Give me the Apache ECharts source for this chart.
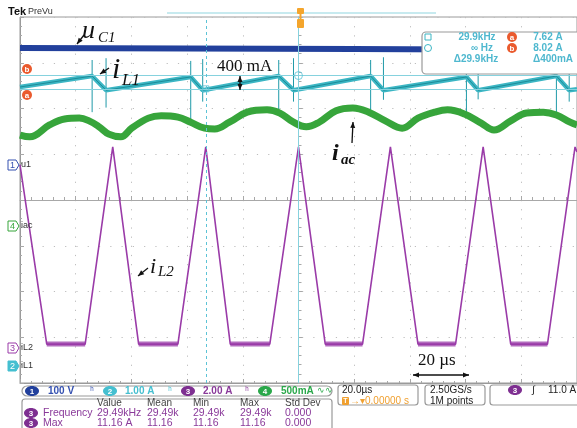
<!DOCTYPE html>
<html>
<head>
<meta charset="utf-8">
<script src="https://cdn.jsdelivr.net/npm/echarts@6/dist/echarts.min.js"></script>
<style>
  html, body { margin: 0; padding: 0; background: #fff; }
  #main { width: 577px; height: 428px; }
</style>
</head>
<body>
<div id="main"></div>
<script>
// x = time in µs (20 µs/div, trigger at centre), y = screen divisions (8 div high)
const timeRange = [-100, 100];
const timeStep = 20;
const divRange = [-4, 4];

// traces
const uC1 = [[-100, 3.32], [-40, 3.31], [20, 3.30], [100, 3.28]];

const iL1 = [[-100, 2.47], [-74.1, 2.71], [-69.1, 2.40], [-38.7, 2.69], [-34.4, 2.40],
  [-7.1, 2.71], [-1.8, 2.40], [25.9, 2.71], [30.5, 2.40], [60.3, 2.69], [64.5, 2.40],
  [92.6, 2.71], [97.2, 2.40], [100, 2.42]];
// switching spikes on iL1: [time, top, bottom]
const iL1Spikes = [[-74.1, 3.06, 1.92], [-69.1, 3.10, 2.02], [-38.7, 3.04, 1.70], [-34.4, 3.08, 2.15],
  [-7.1, 3.06, 1.90], [-1.8, 3.10, 2.15], [25.9, 3.06, 1.96], [30.5, 3.12, 2.19],
  [60.3, 3.04, 1.92], [64.5, 3.08, 2.20], [92.6, 3.06, 1.90], [97.2, 3.10, 2.15]];

const iac = [[-100, 1.42], [-96.5, 1.38], [-89.4, 1.64], [-84.0, 1.77], [-78.7, 1.79], [-75.2, 1.73],
  [-71.6, 1.60], [-68.1, 1.44], [-63.8, 1.38], [-59.9, 1.57], [-53.9, 1.79], [-49.3, 1.84],
  [-43.3, 1.81], [-38.7, 1.70], [-33.7, 1.57], [-30.1, 1.55], [-24.8, 1.70], [-18.4, 1.92],
  [-11.3, 1.97], [-6.7, 1.90], [-1.8, 1.70], [2.8, 1.60], [7.4, 1.70], [13.5, 1.95],
  [19.5, 2.01], [25.2, 1.92], [31.2, 1.73], [37.2, 1.57], [42.9, 1.79], [48.9, 1.92],
  [53.5, 1.97], [59.6, 1.88], [65.6, 1.68], [70.2, 1.53], [76.2, 1.73], [81.9, 1.90],
  [87.9, 1.92], [92.6, 1.86], [97.5, 1.70], [100, 1.64]];

const iL2Floor = -3.15;
const iL2 = [[-100, 0.77], [-90.4, iL2Floor], [-76.6, iL2Floor], [-66.7, 1.16], [-57.4, iL2Floor],
  [-43.3, iL2Floor], [-33.3, 1.16], [-24.5, iL2Floor], [-10.3, iL2Floor], [0, 1.16],
  [9.6, iL2Floor], [23.0, iL2Floor], [33.0, 1.16], [42.9, iL2Floor], [56.4, iL2Floor],
  [66.3, 1.16], [76.2, iL2Floor], [89.4, iL2Floor], [99.3, 1.16], [100, 1.05]];

// cursors
const cursorA = 2.43, cursorB = 2.72;
const cursorT1 = -33.3, cursorT2 = 0;

// flat parts of iL2 carry the switching noise band
const floorSegs = [];
for (let i = 0; i < iL2.length - 1; i++) {
  if (iL2[i][1] === iL2Floor && iL2[i + 1][1] === iL2Floor) floorSegs.push([iL2[i][0], iL2[i + 1][0], iL2Floor]);
}

const C1 = '#22409c', C2 = '#3cb6c4', C3 = '#9a3ba8', C4 = '#37a53b';
const UI = '"Liberation Sans", Arial, sans-serif';
const SERIF = '"Liberation Serif", "Times New Roman", serif';

function txt(x, y, text, font, fill, align, valign) {
  return { type: 'text', x: x, y: y, z: 60, silent: true,
    style: { text: text, font: font, fill: fill,
      textAlign: align || 'left', align: align || 'left',
      textVerticalAlign: valign || 'middle', verticalAlign: valign || 'middle' } };
}
function arrow(x1, y1, x2, y2, both) {
  const a = Math.atan2(y2 - y1, x2 - x1);
  const head = (x, y, g) => ({ type: 'polygon', z: 60, silent: true, shape: { points: [[x, y],
    [x - 6 * Math.cos(g) + 2.5 * Math.sin(g), y - 6 * Math.sin(g) - 2.5 * Math.cos(g)],
    [x - 6 * Math.cos(g) - 2.5 * Math.sin(g), y - 6 * Math.sin(g) + 2.5 * Math.cos(g)]] },
    style: { fill: '#111' } });
  const els = [{ type: 'line', z: 60, silent: true, shape: { x1: x1, y1: y1, x2: x2, y2: y2 }, style: { stroke: '#111', lineWidth: 1.3 } }, head(x2, y2, a)];
  if (both) els.push(head(x1, y1, a + Math.PI));
  return els;
}
function badge(cx, cy, label, color) {
  return [{ type: 'ellipse', z: 60, silent: true, shape: { cx: cx, cy: cy, rx: 7, ry: 5 }, style: { fill: color } },
    txt(cx, cy + 0.5, label, 'bold 8px ' + UI, '#fff', 'center')];
}
function cursorBadge(cx, cy, label) {
  return [{ type: 'circle', z: 60, silent: true, shape: { cx: cx, cy: cy, r: 5 }, style: { fill: '#ea5a2e' } },
    txt(cx, cy + 0.5, label, 'bold 8px ' + UI, '#fff', 'center')];
}
function chMark(y, num, label, color, filled) {
  return [{ type: 'polygon', z: 60, silent: true, shape: { points: [[8, y - 5], [16, y - 5], [19, y], [16, y + 5], [8, y + 5]] },
    style: { fill: filled ? color : '#fff', stroke: color, lineWidth: 1 } },
    txt(12.5, y + 0.5, num, '9px ' + UI, filled ? '#fff' : color, 'center'),
    txt(21, y, label, '9px ' + UI, '#333')];
}
function box(x, y, w, h) {
  return { type: 'rect', z: 55, silent: true, shape: { x: x, y: y, width: w, height: h, r: 3 },
    style: { fill: '#fff', stroke: '#9a9a9a', lineWidth: 1.2 } };
}

const g = [];
// header
g.push(txt(8, 12, 'Tek', 'bold 11px ' + UI, '#111'));
g.push(txt(28, 12, 'PreVu', '9px ' + UI, '#333'));
g.push({ type: 'line', z: 50, silent: true, shape: { x1: 167, y1: 13, x2: 436, y2: 13 }, style: { stroke: '#8fd5df', lineWidth: 1 } });
g.push({ type: 'rect', z: 61, silent: true, shape: { x: 297, y: 8, width: 7, height: 6, r: 1 }, style: { fill: '#f4a52c' } });
g.push({ type: 'rect', z: 61, silent: true, shape: { x: 299.5, y: 14, width: 2, height: 5 }, style: { fill: '#f4a52c' } });
g.push({ type: 'rect', z: 61, silent: true, shape: { x: 297, y: 19, width: 7, height: 9, r: 1 }, style: { fill: '#f4a52c' } });
// cursor readout box
g.push({ type: 'rect', z: 55, silent: true, shape: { x: 422, y: 32, width: 170, height: 42, r: 4 }, style: { fill: '#fff', stroke: '#9a9a9a', lineWidth: 1.2 } });
g.push({ type: 'rect', z: 60, silent: true, shape: { x: 425, y: 34, width: 6, height: 6 }, style: { fill: 'none', stroke: C2, lineWidth: 1 } });
g.push({ type: 'circle', z: 60, silent: true, shape: { cx: 428, cy: 48, r: 3.5 }, style: { fill: 'none', stroke: C2, lineWidth: 1 } });
g.push(txt(477, 37, '29.9kHz', 'bold 10px ' + UI, '#4fb8cf', 'center'));
g.push(txt(482, 48, '∞ Hz', 'bold 10px ' + UI, '#4fb8cf', 'center'));
g.push(txt(476, 59, 'Δ29.9kHz', 'bold 10px ' + UI, '#4fb8cf', 'center'));
g.push(...cursorBadge(512, 37, 'a'), ...cursorBadge(512, 48, 'b'));
g.push(txt(548, 37, '7.62 A', 'bold 10px ' + UI, '#4fb8cf', 'center'));
g.push(txt(548, 48, '8.02 A', 'bold 10px ' + UI, '#4fb8cf', 'center'));
g.push(txt(553, 59, 'Δ400mA', 'bold 10px ' + UI, '#4fb8cf', 'center'));
// left-side markers
g.push(...cursorBadge(27, 69, 'b'), ...cursorBadge(27, 95, 'a'));
g.push(...chMark(165, '1', 'u1', '#3450b0', false));
g.push(...chMark(226, '4', 'iac', C4, false));
g.push(...chMark(348, '3', 'iL2', C3, false));
g.push(...chMark(366, '2', 'iL1', '#45bfd0', true));
// annotations
g.push(txt(82, 18, 'u', 'italic 26px ' + SERIF, '#111', 'left', 'top'));
g.push(txt(98, 31, 'C1', 'italic 15px ' + SERIF, '#111', 'left', 'top'));
g.push(...arrow(84, 35, 77, 44));
g.push(txt(112, 55, 'i', 'italic 30px ' + SERIF, '#111', 'left', 'top'));
g.push(txt(122, 72, 'L1', 'italic 17px ' + SERIF, '#111', 'left', 'top'));
g.push(...arrow(109, 68, 100, 74));
g.push(txt(217, 58, '400 mA', '17px ' + SERIF, '#111', 'left', 'top'));
g.push(...arrow(240, 76, 240, 90, true));
g.push(txt(332, 142, 'i', 'bold italic 24px ' + SERIF, '#111', 'left', 'top'));
g.push(txt(341, 153, 'ac', 'bold italic 15px ' + SERIF, '#111', 'left', 'top'));
g.push(...arrow(352, 143, 353, 122));
g.push(txt(150, 256, 'i', 'italic 22px ' + SERIF, '#111', 'left', 'top'));
g.push(txt(158, 265, 'L2', 'italic 15px ' + SERIF, '#111', 'left', 'top'));
g.push(...arrow(148, 268, 138, 276));
g.push(txt(418, 352, '20 µs', '17px ' + SERIF, '#111', 'left', 'top'));
g.push(...arrow(413, 375, 469, 375, true));
// status bar
g.push({ type: 'rect', z: 55, silent: true, shape: { x: 22, y: 386, width: 310, height: 10, r: 5 }, style: { fill: '#fff', stroke: '#9a9a9a', lineWidth: 1.2 } });
g.push(...badge(32, 391, '1', C1), txt(48, 391, '100 V', 'bold 10px ' + UI, '#3450b0'));
g.push(txt(92, 391, 'ʰ', '9px ' + UI, '#3450b0', 'center'));
g.push(...badge(110, 391, '2', '#45bfd0'), txt(125, 391, '1.00 A', 'bold 10px ' + UI, '#45bfd0'));
g.push(txt(170, 391, 'ʰ', '9px ' + UI, '#45bfd0', 'center'));
g.push(...badge(188, 391, '3', '#7e2f91'), txt(203, 391, '2.00 A', 'bold 10px ' + UI, '#8a3a9a'));
g.push(txt(247, 391, 'ʰ', '9px ' + UI, '#8a3a9a', 'center'));
g.push(...badge(265, 391, '4', '#2aa84a'), txt(281, 391, '500mA', 'bold 10px ' + UI, '#2aa84a'));
g.push(txt(317, 391, '∿∿', '9px ' + UI, '#2aa84a'));
g.push(box(338, 385, 80, 20), txt(342, 390, '20.0µs', '10px ' + UI, '#222'));
g.push({ type: 'rect', z: 60, silent: true, shape: { x: 342, y: 397, width: 7, height: 8, r: 1 }, style: { fill: '#f0a030' } });
g.push(txt(345.5, 401.5, 'T', 'bold 7px ' + UI, '#fff', 'center'));
g.push(txt(350, 401, '→▾0.00000 s', '10px ' + UI, '#f0a030'));
g.push(box(425, 385, 60, 20), txt(430, 390, '2.50GS/s', '10px ' + UI, '#222'), txt(430, 401, '1M points', '10px ' + UI, '#222'));
g.push(box(490, 385, 100, 20), ...badge(515, 390, '3', '#7e2f91'));
g.push(txt(532, 390, '∫', '10px ' + UI, '#222'), txt(548, 390, '11.0 A', '10px ' + UI, '#222'));
g.push(box(22, 399, 310, 40));
const cols = [97, 147, 193, 240, 285];
['Value', 'Mean', 'Min', 'Max', 'Std Dev'].forEach((h, i) => g.push(txt(cols[i], 403, h, '10px ' + UI, '#444')));
const rowFreq = ['29.49kHz', '29.49k', '29.49k', '29.49k', '0.000'];
const rowMax = ['11.16 A', '11.16', '11.16', '11.16', '0.000'];
g.push(...badge(31, 413, '3', '#7e2f91'), txt(43, 413, 'Frequency', '10.5px ' + UI, '#8a3a9a'));
g.push(...badge(31, 423, '3', '#7e2f91'), txt(43, 423, 'Max', '10.5px ' + UI, '#8a3a9a'));
rowFreq.forEach((v, i) => g.push(txt(cols[i], 413, v, '10.5px ' + UI, '#8a3a9a')));
rowMax.forEach((v, i) => g.push(txt(cols[i], 423, v, '10.5px ' + UI, '#8a3a9a')));

function vSeg(params, api) {
  const p1 = api.coord([api.value(0), api.value(1)]);
  const p2 = api.coord([api.value(0), api.value(2)]);
  return { type: 'line', shape: { x1: p1[0], y1: p1[1], x2: p2[0], y2: p2[1] }, style: { stroke: '#1f9aa8', lineWidth: 1 } };
}
function hSeg(params, api) {
  const p1 = api.coord([api.value(0), api.value(2)]);
  const p2 = api.coord([api.value(1), api.value(2)]);
  return { type: 'line', shape: { x1: p1[0], y1: p1[1], x2: p2[0], y2: p2[1] }, style: { stroke: C3, lineWidth: 5, opacity: 0.75 } };
}

const axisBase = { type: 'value', axisLabel: { show: false }, axisPointer: { show: false } };
const chart = echarts.init(document.getElementById('main'));
chart.setOption({
  animation: false,
  backgroundColor: '#fff',
  grid: { left: 20, top: 17, width: 564, height: 366, show: true, borderColor: '#9a9a9a', borderWidth: 1, backgroundColor: '#fff' },
  xAxis: [
    Object.assign({}, axisBase, { min: timeRange[0], max: timeRange[1], interval: timeStep, position: 'top',
      axisLine: { onZero: true, lineStyle: { color: '#a8a8a8' } },
      axisTick: { show: true, length: 4, lineStyle: { color: '#a8a8a8' } },
      minorTick: { show: true, splitNumber: 5, length: 3, lineStyle: { color: '#a8a8a8' } },
      splitLine: { show: true, lineStyle: { color: '#bdbdbd', width: 1, type: [1.2, 7.95] } } }),
    Object.assign({}, axisBase, { min: timeRange[0], max: timeRange[1], interval: timeStep, position: 'bottom',
      axisLine: { onZero: false, lineStyle: { color: '#9a9a9a' } },
      axisTick: { show: true, inside: true, length: 4, lineStyle: { color: '#a8a8a8' } },
      minorTick: { show: true, splitNumber: 5, length: 2, lineStyle: { color: '#a8a8a8' } },
      splitLine: { show: false } })
  ],
  yAxis: [
    Object.assign({}, axisBase, { min: divRange[0], max: divRange[1], interval: 1, position: 'right',
      axisLine: { onZero: true, lineStyle: { color: '#a8a8a8' } },
      axisTick: { show: true, length: 4, lineStyle: { color: '#a8a8a8' } },
      minorTick: { show: true, splitNumber: 5, length: 3, lineStyle: { color: '#a8a8a8' } },
      splitLine: { show: true, lineStyle: { color: '#bdbdbd', width: 1, type: [1.2, 10.08] } } }),
    Object.assign({}, axisBase, { min: divRange[0], max: divRange[1], interval: 1, position: 'left',
      axisLine: { onZero: false, lineStyle: { color: '#9a9a9a' } },
      axisTick: { show: true, inside: true, length: 4, lineStyle: { color: '#a8a8a8' } },
      minorTick: { show: true, splitNumber: 5, length: 2, lineStyle: { color: '#a8a8a8' } },
      splitLine: { show: false } })
  ],
  series: [
    { name: 'cursors', type: 'line', data: [], silent: true, z: 1,
      markLine: { silent: true, symbol: 'none', label: { show: false }, animation: false,
        lineStyle: { color: '#86d2de', width: 1, type: 'solid' },
        data: [{ yAxis: cursorA }, { yAxis: cursorB },
          { xAxis: cursorT1, lineStyle: { type: [3, 3], color: '#5cc3d6' } }, { xAxis: cursorT2 }] } },
    { name: 'uC1', type: 'line', data: uC1, showSymbol: false, silent: true, z: 3,
      lineStyle: { color: C1, width: 6 } },
    { name: 'iac', type: 'line', data: iac, smooth: 0.4, showSymbol: false, silent: true, z: 3,
      lineStyle: { color: C4, width: 7 } },
    { name: 'iL1 spikes', type: 'custom', data: iL1Spikes, renderItem: vSeg, silent: true, z: 3,
      encode: { x: 0, y: [1, 2] } },
    { name: 'iL1', type: 'line', data: iL1, showSymbol: false, silent: true, z: 4,
      lineStyle: { color: C2, width: 4.5 } },
    { name: 'iL1 core', type: 'line', data: iL1, showSymbol: false, silent: true, z: 4,
      lineStyle: { color: '#1c8c98', width: 1 } },
    { name: 'iL2 floor', type: 'custom', data: floorSegs, renderItem: hSeg, silent: true, z: 3,
      encode: { x: [0, 1], y: 2 } },
    { name: 'iL2', type: 'line', data: iL2, showSymbol: false, silent: true, z: 4,
      lineStyle: { color: C3, width: 1.6 } },
    { name: 'cursor marks', type: 'scatter', silent: true, z: 5,
      data: [{ value: [cursorT2, cursorB], symbol: 'circle', symbolSize: 8 },
        { value: [cursorT1, cursorA], symbol: 'rect', symbolSize: 6 }],
      itemStyle: { color: 'rgba(255,255,255,0)', borderColor: '#5cc3d6', borderWidth: 1 } }
  ],
  graphic: { elements: g }
});
</script>
</body>
</html>
